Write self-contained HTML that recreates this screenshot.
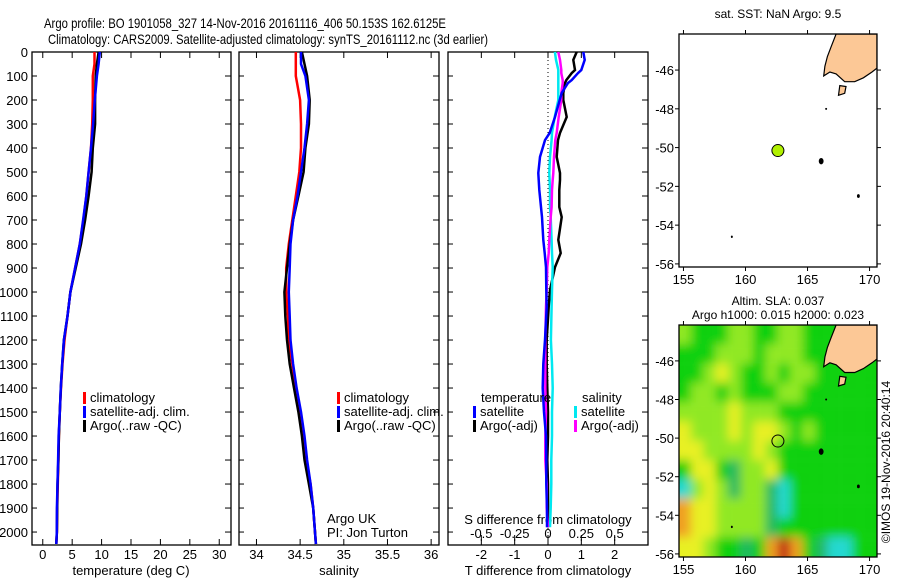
<!DOCTYPE html>
<html><head><meta charset="utf-8"><style>
html,body{margin:0;padding:0;background:#fff;}
svg{display:block;font-family:"Liberation Sans",sans-serif;}
</style></head><body>
<svg id="fig" width="900" height="580" viewBox="0 0 900 580" xmlns="http://www.w3.org/2000/svg">
<defs>
<filter id="slablur" filterUnits="userSpaceOnUse" x="600" y="280" width="320" height="320"><feGaussianBlur stdDeviation="5"/></filter>
<clipPath id="clip-sla"><rect x="679" y="325" width="198" height="232"/></clipPath>
<clipPath id="clip-sst"><rect x="679" y="34" width="198" height="233"/></clipPath>
</defs>
<text x="44" y="28" font-size="14" textLength="402" lengthAdjust="spacingAndGlyphs">Argo profile: BO 1901058_327 14-Nov-2016 20161116_406 50.153S 162.6125E</text>
<text x="48" y="44" font-size="14" textLength="440" lengthAdjust="spacingAndGlyphs">Climatology: CARS2009. Satellite-adjusted climatology: synTS_20161112.nc (3d earlier)</text>
</svg>
<script>
const depths=[0,50,100,200,300,400,500,600,700,800,900,1000,1100,1200,1300,1400,1500,1600,1700,1800,1900,2000,2050];
const tempClim=[8.8,8.8,8.5,8.5,8.4,8.2,7.8,7.4,6.9,6.3,5.5,4.7,4.2,3.7,3.35,3.1,2.9,2.75,2.65,2.55,2.45,2.4,2.3];
const tempSat=[9.7,9.5,9.2,8.85,8.56,8.2,7.8,7.4,6.86,6.3,5.5,4.7,4.2,3.6,3.3,3.06,2.9,2.7,2.6,2.5,2.4,2.38,2.3];
const tempArgo=[9.5,9.2,9.0,8.9,8.9,8.5,8.3,7.8,7.2,6.5,5.6,4.7,4.2,3.6,3.3,3.06,2.9,2.75,2.65,2.5,2.45,2.4,2.3];
const salClim=[34.45,34.45,34.45,34.5,34.51,34.51,34.49,34.45,34.41,34.37,34.34,34.34,34.36,34.37,34.41,34.45,34.5,34.54,34.57,34.62,34.65,34.67,34.68];
const salSat=[34.51,34.51,34.56,34.6,34.58,34.55,34.51,34.47,34.42,34.39,34.38,34.37,34.38,34.39,34.42,34.46,34.51,34.55,34.58,34.62,34.65,34.67,34.68];
const salArgo=[34.52,34.55,34.58,34.61,34.6,34.56,34.54,34.48,34.42,34.38,34.35,34.32,34.33,34.35,34.38,34.43,34.48,34.52,34.55,34.6,34.65,34.67,34.68];
const dDepths=[0,33,75,88,117,129,171,200,271,337,367,437,504,533,575,646,688,783,838,896,992,1062,1200,1300,1400,1500,1600,1700,1800,1900,1980];
const dTSat=[1.06,1.1,1.0,0.9,0.71,0.6,0.41,0.35,0.21,0.05,-0.09,-0.24,-0.29,-0.28,-0.26,-0.21,-0.18,-0.14,-0.1,-0.06,-0.05,-0.04,-0.09,-0.14,-0.16,-0.12,-0.06,-0.05,-0.05,-0.03,-0.03];
const dTArgo=[0.86,0.76,0.81,0.71,0.55,0.51,0.46,0.46,0.56,0.36,0.3,0.26,0.36,0.36,0.34,0.34,0.41,0.31,0.38,0.21,0.06,0.02,-0.04,-0.04,-0.02,0.0,0.0,-0.02,0.0,0.0,0.0];
const dSSat=[0.052,0.06,0.077,0.077,0.077,0.077,0.077,0.077,0.05,0.03,0.027,0.015,0.01,0.012,0.015,0.015,0.02,0.027,0.03,0.035,0.03,0.027,0.022,0.03,0.035,0.03,0.03,0.025,0.025,0.02,0.015];
const dSArgo=[0.077,0.09,0.1,0.1,0.11,0.11,0.1,0.1,0.08,0.065,0.055,0.045,0.04,0.035,0.03,0.027,0.02,0.01,0.005,-0.005,-0.01,-0.015,-0.02,-0.02,-0.02,-0.015,-0.02,-0.02,-0.01,-0.01,0.0];
const depthTicks=[0,100,200,300,400,500,600,700,800,900,1000,1100,1200,1300,1400,1500,1600,1700,1800,1900,2000];
const tempTicks=[0,5,10,15,20,25,30];
const salTicks=[34,34.5,35,35.5,36];
const dTTicks=[-2,-1,0,1,2];
const dSTicks=[-0.5,-0.25,0,0.25,0.5];
const lonTicks=[155,160,165,170];
const latTicks=[-46,-48,-50,-52,-54,-56];
// SLA levels grid rows lat -44..-56 (1 deg), cols lon 155..170
const slaGrid=[
[3,2,2,2,3,3,2,2,3,3,2,2,2,2,2,2],
[2,2,2,3,3,3,2,3,3,3,2,2,2,2,2,2],
[2,2,3,4,3,2,2,3,2,3,3,2,2,2,2,2],
[2,3,3,2,3,2,2,2,3,3,2,2,2,2,2,2],
[3,3,3,3,4,3,3,3,2,2,2,2,2,2,2,2],
[4,3,3,3,4,3,4,4,3,2,3,2,2,2,2,2],
[4,4,3,3,3,3,4,3,2,2,2,2,2,2,2,2],
[2,4,4,2,1,3,3,4,2,2,2,2,2,2,2,2],
[0,3,4,3,1,3,3,1,0,2,2,2,2,2,2,2],
[5,4,4,3,3,3,3,1,0,2,2,2,2,2,2,2],
[5,4,4,3,3,3,3,1,2,2,2,2,2,2,2,2],
[4,4,3,2,2,1,2,5,6,5,2,1,0,0,2,2]];
const slaColors=["#20d8d0","#20b860","#10d010","#90e820","#e8f020","#f0a020","#c02010"];
const floatLon=162.6125, floatLat=-50.153;

const NS="http://www.w3.org/2000/svg";
const svg=document.getElementById('fig');
function mk(tag,attrs,parent){const e=document.createElementNS(NS,tag);for(const k in attrs)e.setAttribute(k,attrs[k]);(parent||svg).appendChild(e);return e;}
function txt(s,x,y,attrs,parent){const e=mk('text',Object.assign({x:x,y:y,'font-size':13},attrs||{}),parent);e.textContent=s;return e;}

const Y0=52,Y1=545,DMAX=2054;
const yD=d=>Y0+(d)*(Y1-Y0)/DMAX;

function panel(name,x0,x1,xmin,xmax){
  const g=mk('g',{});
  
  
  const xs=v=>x0+(v-xmin)/(xmax-xmin)*(x1-x0);
  const fr=mk('rect',{x:x0,y:Y0,width:x1-x0,height:Y1-Y0,fill:'none',stroke:'#000','stroke-width':1.3},g);
  
  
  depthTicks.forEach(d=>{const y=yD(d);mk('line',{x1:x1,y1:y,x2:x1-6,y2:y,stroke:'#000'},g);mk('line',{x1:x0,y1:y,x2:x0+5,y2:y,stroke:'#000'},g);});
  return {g,xs};
}
function line(g,xs,xv,dv,color,name,w){
  const pts=xv.map((v,i)=>xs(v).toFixed(1)+','+yD(dv[i]).toFixed(1)).join(' ');
  const p=mk('polyline',{points:pts,fill:'none',stroke:color,'stroke-width':w||2.5},g);
  
  
}
const yl=mk('g',{});


depthTicks.forEach(d=>txt(String(d),28,yD(d)+5,{'text-anchor':'end'},yl));

const p1=panel('temperature-panel',32,231,-1.83,32);
tempTicks.forEach(t=>{const x=p1.xs(t);mk('line',{x1:x,y1:Y1,x2:x,y2:Y1-6,stroke:'#000'},p1.g);mk('line',{x1:x,y1:Y0,x2:x,y2:Y0+6,stroke:'#000'},p1.g);txt(String(t),x,559,{'text-anchor':'middle'},p1.g);});
txt('temperature (deg C)',131,575,{'text-anchor':'middle'},p1.g);
line(p1.g,p1.xs,tempClim,depths,'#f00','temp-climatology-line');
line(p1.g,p1.xs,tempArgo,depths,'#000','temp-argo-line');
line(p1.g,p1.xs,tempSat,depths,'#00f','temp-satellite-line');
function legend(g,x,y,items){items.forEach((it,i)=>{mk('rect',{x:x,y:y+i*14-10,width:3,height:12,fill:it[1]},g);txt(it[0],x+7,y+i*14,{},g);});}
legend(p1.g,83,402,[['climatology','#f00'],['satellite-adj. clim.','#00f'],['Argo(..raw -QC)','#000']]);

const p2=panel('salinity-panel',239,439,33.8,36.09);
salTicks.forEach(t=>{const x=p2.xs(t);mk('line',{x1:x,y1:Y1,x2:x,y2:Y1-6,stroke:'#000'},p2.g);mk('line',{x1:x,y1:Y0,x2:x,y2:Y0+6,stroke:'#000'},p2.g);txt(String(t),x,559,{'text-anchor':'middle'},p2.g);});
txt('salinity',339,575,{'text-anchor':'middle'},p2.g);
line(p2.g,p2.xs,salClim,depths,'#f00','sal-climatology-line');
line(p2.g,p2.xs,salArgo,depths,'#000','sal-argo-line');
line(p2.g,p2.xs,salSat,depths,'#00f','sal-satellite-line');
legend(p2.g,337,402,[['climatology','#f00'],['satellite-adj. clim.','#00f'],['Argo(..raw -QC)','#000']]);
txt('Argo UK',327,523,{},p2.g);
txt('PI: Jon Turton',327,537,{},p2.g);

const p3=panel('difference-panel',448,648,-3,3);
const xsS=v=>p3.xs(v*4);
mk('line',{x1:p3.xs(0),y1:Y0,x2:p3.xs(0),y2:Y1,stroke:'#000','stroke-dasharray':'1,3'},p3.g);
dTTicks.forEach(t=>{const x=p3.xs(t);mk('line',{x1:x,y1:Y1,x2:x,y2:Y1-6,stroke:'#000'},p3.g);mk('line',{x1:x,y1:Y0,x2:x,y2:Y0+6,stroke:'#000'},p3.g);txt(String(t),x,559,{'text-anchor':'middle'},p3.g);});
dSTicks.forEach(t=>{const x=xsS(t);mk('line',{x1:x,y1:Y1-4,x2:x,y2:Y1-10,stroke:'#000'},p3.g);txt(String(t),x,538,{'text-anchor':'middle'},p3.g);});
txt('S difference from climatology',548,524,{'text-anchor':'middle'},p3.g);
txt('T difference from climatology',548,575,{'text-anchor':'middle'},p3.g);
line(p3.g,p3.xs,dTArgo,dDepths,'#000','dT-argo-line');
line(p3.g,xsS,dSSat,dDepths,'#00e8f0','dS-satellite-line');
line(p3.g,xsS,dSArgo,dDepths,'#f0f','dS-argo-line');
line(p3.g,p3.xs,dTSat,dDepths,'#00f','dT-satellite-line');
txt('temperature',481,402,{},p3.g);
legend(p3.g,473,416,[['satellite','#00f'],['Argo(-adj)','#000']]);
txt('salinity',582,402,{},p3.g);
legend(p3.g,574,416,[['satellite','#00e8f0'],['Argo(-adj)','#f0f']]);

const MX0=679,MX1=877,LON0=154.64,LON1=170.6;
const mlx=l=>MX0+(l-LON0)/(LON1-LON0)*(MX1-MX0);
const land=[[167.3,-44.14],[166.9,-44.8],[166.6,-45.3],[166.4,-45.8],[166.3,-46.3],[166.8,-46.1],[167.3,-46.2],[168,-46.6],[168.8,-46.6],[169.5,-46.4],[170.2,-46.1],[170.6,-45.9],[170.6,-44.14]];
const stewart=[[167.6,-46.8],[168.1,-46.85],[168.0,-47.2],[167.5,-47.3]];
const islands=[[166.1,-50.7,0.2],[169.1,-52.5,0.12],[158.9,-54.6,0.08],[166.5,-48.0,0.03]];
function map(name,top,bot,withSla,clip){
  const LAT0=-44.14,LAT1=-56.16;
  const mly=l=>top+(l-LAT0)/(LAT1-LAT0)*(bot-top);
  const g=mk('g',{});
  
  
  const inner=mk('g',{'clip-path':'url(#'+clip+')'},g);
  if(withSla){
    const hg=mk('g',{filter:'url(#slablur)'},inner);
    
    
    slaGrid.forEach((row,r)=>row.forEach((v,c)=>{
      const lonA=(c===0?153:154.6+c), lonB=(c===row.length-1?173:155.6+c);
      const latA=(r===0?-42:-44.14-r), latB=(r===slaGrid.length-1?-58:-45.14-r);
      const rc=mk('rect',{x:mlx(lonA),y:mly(latA),width:mlx(lonB)-mlx(lonA),height:mly(latB)-mly(latA),fill:slaColors[v]},hg);
      
      
    }));
  }
  const pts=a=>a.map(p=>mlx(p[0]).toFixed(1)+','+mly(p[1]).toFixed(1)).join(' ');
  const L=mk('polygon',{points:pts(land),fill:'#fcc896',stroke:'#000','stroke-width':1.2},inner);
  
  
  const S=mk('polygon',{points:pts(stewart),fill:'#fcc896',stroke:'#000','stroke-width':1.2},inner);
  
  
  islands.forEach(i=>{const e=mk('ellipse',{cx:mlx(i[0]),cy:mly(i[1]),rx:Math.max(1,i[2]*12),ry:Math.max(1,i[2]*16),fill:'#000'},inner);});
  const dot=mk('circle',{cx:mlx(floatLon),cy:mly(floatLat),r:6,fill:withSla?'none':'#b0f000',stroke:'#000','stroke-width':1},inner);
  
  
  const fr=mk('rect',{x:MX0,y:top,width:MX1-MX0,height:bot-top,fill:'none',stroke:'#000','stroke-width':1.3},g);
  
  
  lonTicks.forEach(l=>{const x=mlx(l);mk('line',{x1:x,y1:bot,x2:x,y2:bot+4,stroke:'#000'},g);mk('line',{x1:x,y1:top,x2:x,y2:top-4,stroke:'#000'},g);txt(String(l),x,bot+17,{'text-anchor':'middle'},g);});
  latTicks.forEach(l=>{const y=mly(l);mk('line',{x1:MX0,y1:y,x2:MX0-4,y2:y,stroke:'#000'},g);mk('line',{x1:MX1,y1:y,x2:MX1+4,y2:y,stroke:'#000'},g);txt(String(l),MX0-5,y+5,{'text-anchor':'end'},g);});
  return g;
}
const m1=map('sst-map',34,267,false,'clip-sst');
txt('sat. SST: NaN Argo: 9.5',778,18,{'text-anchor':'middle','font-size':12},m1);
const m2=map('sla-map',325,557,true,'clip-sla');
txt('Altim. SLA: 0.037',778,305,{'text-anchor':'middle','font-size':12},m2);
txt('Argo h1000: 0.015 h2000: 0.023',778,319,{'text-anchor':'middle','font-size':12},m2);
const cr=txt('©IMOS 19-Nov-2016 20:40:14',0,0,{'text-anchor':'middle','font-size':12,transform:'translate(890,462) rotate(-90)'});


</script>
</body></html>
